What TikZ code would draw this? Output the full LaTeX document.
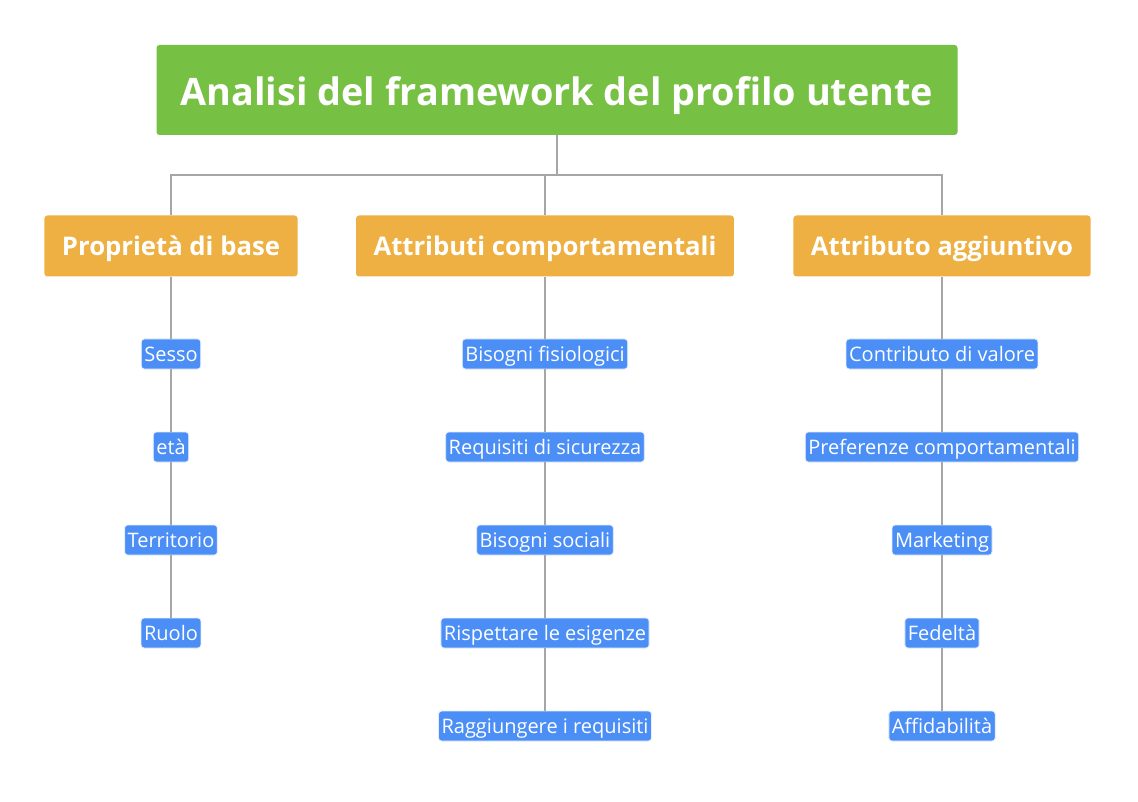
\documentclass[tikz,border=0pt]{standalone}
\usepackage{fontspec}
\setmainfont{Open Sans}
\usetikzlibrary{positioning}
\definecolor{titlegreen}{HTML}{76C043}
\definecolor{branchorange}{HTML}{EEB042}
\definecolor{leafblue}{HTML}{4B8EF6}
\definecolor{linkgray}{HTML}{A6A6A6}
\tikzset{
  % Base style
  map base/.style={x=1pt, y=-1pt, every node/.style={text=white}},
  % Boxes
  title box/.style={rectangle, fill=titlegreen, rounded corners=3pt, minimum width=801pt, minimum height=90pt, inner sep=0pt, text height=32pt, text depth=0pt, font=\fontsize{37.8}{42}\selectfont\bfseries},
  branch box/.style={rectangle, fill=branchorange, rounded corners=3pt, minimum height=61pt, inner xsep=17.5pt, inner ysep=0pt, text height=19pt, text depth=0pt, font=\fontsize{25.7}{30}\selectfont\bfseries},
  leaf box/.style={rectangle, fill=leafblue, draw=white!85!leafblue, line width=0.8pt, rounded corners=3pt, minimum height=30pt, inner xsep=3pt, inner ysep=0pt, text height=15pt, text depth=1pt, font=\fontsize{20}{24}\selectfont},
  % Connectors
  link/.style={draw=linkgray, line width=1.2pt},
}
\begin{document}
\begin{tikzpicture}[map base]
\fill[white] (0,0) rectangle (1138,802);
\useasboundingbox (0,0) rectangle (1138,802);

% Root
\node[title box] (root) at (557,90) {Analisi del framework del profilo utente};

% Branches
\node[branch box] (base) at (171,246) {Proprietà di base};
\node[branch box] (comp) at (545,246) {Attributi comportamentali};
\node[branch box] (extra) at (942,246) {Attributo aggiuntivo};

% Leaves
\node[leaf box] (base1) at (171,354) {Sesso};
\node[leaf box] (base2) at (171,447) {età};
\node[leaf box] (base3) at (171,540) {Territorio};
\node[leaf box] (base4) at (171,633) {Ruolo};

\node[leaf box] (comp1) at (545,354) {Bisogni fisiologici};
\node[leaf box] (comp2) at (545,447) {Requisiti di sicurezza};
\node[leaf box] (comp3) at (545,540) {Bisogni sociali};
\node[leaf box] (comp4) at (545,633) {Rispettare le esigenze};
\node[leaf box] (comp5) at (545,726) {Raggiungere i requisiti};

\node[leaf box] (extra1) at (942,354) {Contributo di valore};
\node[leaf box] (extra2) at (942,447) {Preferenze comportamentali};
\node[leaf box] (extra3) at (942,540) {Marketing};
\node[leaf box] (extra4) at (942,633) {Fedeltà};
\node[leaf box] (extra5) at (942,726) {Affidabilità};

% Root to branches
\coordinate (bus) at (557,175);
\draw[link] (root.south) -- (bus);
\foreach \b in {base,comp,extra}
  \draw[link] (bus) -| (\b.north);

% Branches to leaves
\draw[link] (base.south) -- (base1.north);
\foreach \a/\b in {1/2,2/3,3/4}
  \draw[link] (base\a.south) -- (base\b.north);
\draw[link] (comp.south) -- (comp1.north);
\foreach \a/\b in {1/2,2/3,3/4,4/5}
  \draw[link] (comp\a.south) -- (comp\b.north);
\draw[link] (extra.south) -- (extra1.north);
\foreach \a/\b in {1/2,2/3,3/4,4/5}
  \draw[link] (extra\a.south) -- (extra\b.north);
\end{tikzpicture}
\end{document}
